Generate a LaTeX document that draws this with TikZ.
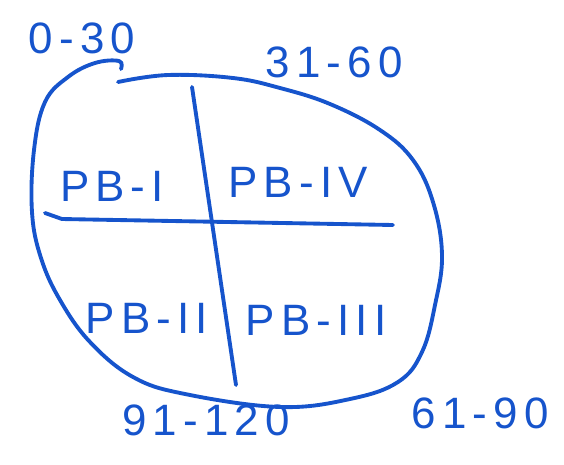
\documentclass[tikz,border=0pt]{standalone}
\usepackage{fontspec}
\setmainfont{Liberation Sans}
\newfontfamily\handfont[LetterSpace=14]{Liberation Sans}
\usepackage{tikz}
\usetikzlibrary{positioning}
\definecolor{ink}{RGB}{22,84,204}

\begin{document}
\begin{tikzpicture}[
  x=0.02cm, y=-0.02cm,
  pen/.style={draw=ink, line width=2.2pt, line cap=round, line join=round},
  block_label/.style={text=ink, font=\handfont\fontsize{25}{28}\selectfont, inner sep=1pt},
  range_label/.style={text=ink, font=\handfont\fontsize{25}{28}\selectfont, inner sep=1pt}
]
\useasboundingbox (0,0) rectangle (564,464);
% outer oval, drawn by hand
\draw[pen] plot[smooth, tension=0.65] coordinates {(121,69) (119,61) (95,63) (68,77) (45,102) (34,150) (32,212) (41,258) (60,300) (90,342) (133,377) (185,394) (280,407) (350,399) (398,382) (422,352) (435,305) (442,255) (433,202) (413,160) (380,130) (330,104) (280,88) (233,78) (168,75) (118,82)};
% cross
\coordinate (top) at (192,87);
\coordinate (bot) at (236,385);
\coordinate (lft) at (45,213);
\coordinate (rgt) at (393,225);
\draw[pen] (top) -- (bot);
\draw[pen] (lft) -- (62,219) -- (rgt);
% quarters
\node[block_label] (pb1) at (112,186) {PB-I};
\node[block_label] (pb4) at (298,182) {PB-IV};
\node[block_label] (pb2) at (147,318) {PB-II};
\node[block_label] (pb3) at (316,320) {PB-III};
% ranges
\node[range_label] (r1) at (82,38) {0-30};
\node[range_label] (r2) at (334,62) {31-60};
\node[range_label] (r3) at (480,413) {61-90};
\node[range_label] (r4) at (206,420) {91-120};
\end{tikzpicture}
\end{document}
